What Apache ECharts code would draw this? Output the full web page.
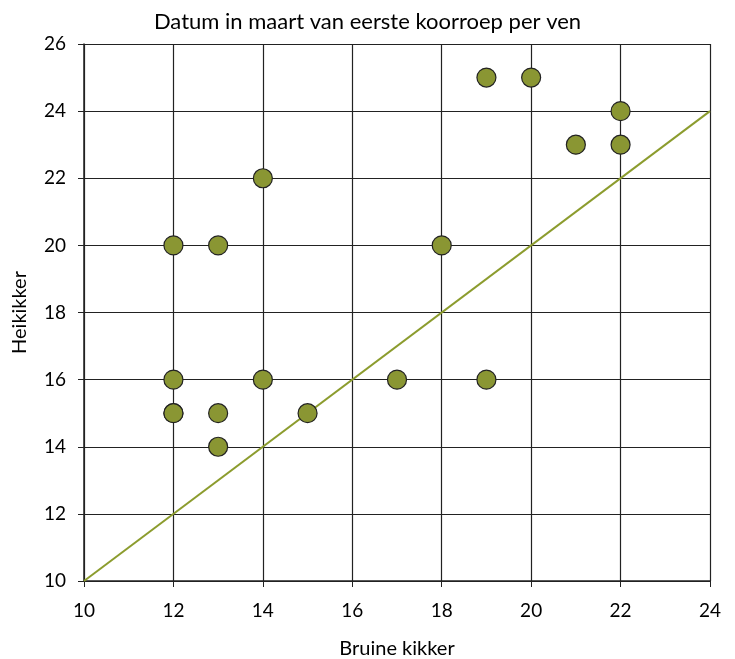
<!DOCTYPE html>
<html><head><meta charset="utf-8">
<script src="https://cdn.jsdelivr.net/npm/echarts@6/dist/echarts.min.js"></script>
<style>html,body{margin:0;padding:0;background:#fff}#c{width:735px;height:659px}</style>
</head><body><div id="c"></div>
<script>
const title = 'Datum in maart van eerste koorroep per ven';
const xName = 'Bruine kikker';
const yName = 'Heikikker';
const bruine = [12, 13, 14, 12, 14, 12, 12, 13, 13, 15, 17, 18, 19, 19, 20, 21, 22, 22];
const hei    = [20, 20, 22, 16, 16, 15, 15, 15, 14, 15, 16, 20, 16, 25, 25, 23, 24, 23];
const lineX = [10, 24];
const lineY = [10, 24];

const pts = bruine.map((v, i) => [v, hei[i]]);
const linePts = lineX.map((v, i) => [v, lineY[i]]);
const font = 'Lato';
const chart = echarts.init(document.getElementById('c'));
chart.setOption({
  animation: false,
  title: {text: title, left: 'center', top: 6, textStyle: {fontFamily: font, fontWeight: 'normal', fontSize: 22, color: '#000'}},
  grid: {left: 84, right: 25, top: 44, bottom: 78, outerBoundsMode: 'none', containLabel: false},
  xAxis: {
    type: 'value', min: 10, max: 24, interval: 2,
    name: xName, nameLocation: 'middle', nameGap: 58,
    nameTextStyle: {fontFamily: font, fontSize: 20, color: '#000'},
    axisLine: {lineStyle: {color: '#222', width: 1.5}},
    axisTick: {show: true, length: 6, lineStyle: {color: '#222'}},
    axisLabel: {fontFamily: font, fontSize: 19, color: '#000', margin: 20},
    splitLine: {lineStyle: {color: '#222', width: 1.2}}
  },
  yAxis: {
    type: 'value', min: 10, max: 26, interval: 2,
    name: yName, nameLocation: 'middle', nameGap: 54,
    nameTextStyle: {fontFamily: font, fontSize: 20, color: '#000'},
    axisLine: {show: true, lineStyle: {color: '#222', width: 1.5}},
    axisTick: {show: true, length: 6, lineStyle: {color: '#222'}},
    axisLabel: {fontFamily: font, fontSize: 19, color: '#000', margin: 18},
    splitLine: {lineStyle: {color: '#222', width: 1.2}}
  },
  series: [
    {type: 'line', data: linePts, symbol: 'none', lineStyle: {color: '#8c9c2e', width: 2}, z: 2},
    {type: 'scatter', data: pts, symbolSize: 19, itemStyle: {color: '#8a9633', borderColor: '#222', borderWidth: 1.2, opacity: 1}, z: 3}
  ]
});
</script></body></html>
